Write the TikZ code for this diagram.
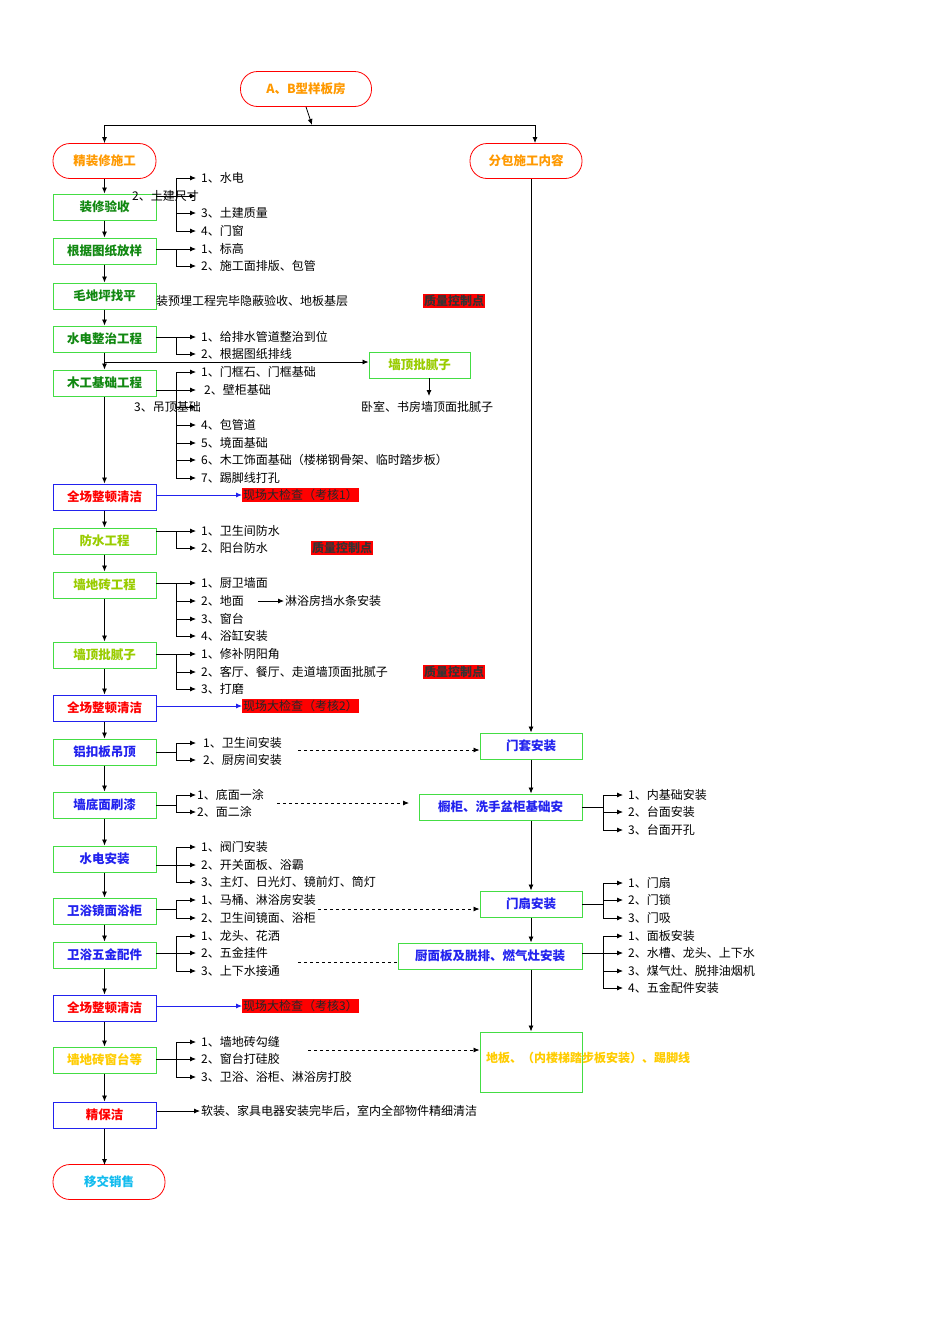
\documentclass[tikz,border=0pt]{standalone}
\usepackage{fontspec}
\setmainfont{Liberation Serif}
\newfontfamily\cjk{Noto Sans CJK SC}
\usetikzlibrary{arrows.meta}
\definecolor{bgreen}{HTML}{44DD44}
\definecolor{dgreen}{HTML}{118811}
\definecolor{ygreen}{HTML}{99CC00}
\definecolor{orng}{HTML}{FF9900}
\definecolor{gold}{HTML}{FFCC00}
\definecolor{cyn}{HTML}{11BBEE}
\definecolor{blu}{HTML}{2222EE}
\tikzset{
  every node/.style={font=\cjk\fontsize{12}{14}\selectfont, inner sep=1pt},
  gbox/.style={draw=bgreen, line width=1pt, minimum width=103pt, minimum height=26pt, font=\cjk\bfseries\fontsize{12.5}{14}\selectfont},
  bbox/.style={draw=blu, line width=1pt, minimum width=103pt, minimum height=26pt, text=red, font=\cjk\bfseries\fontsize{12.5}{14}\selectfont},
  rbox/.style={draw=red, rounded corners=17pt, line width=0.8pt, minimum height=35pt, text=orng, font=\cjk\bfseries\fontsize{12.5}{14}\selectfont},
  arr/.style={-{Latex[length=6pt,width=5pt]}, line width=0.8pt},
  ln/.style={line width=0.8pt},
  dsh/.style={dashed, line width=0.8pt},
  item/.style={anchor=west},
  qc/.style={fill=red, text=black!80, font=\cjk\bfseries\itshape\fontsize{12}{14}\selectfont, inner sep=1pt},
  chk/.style={fill=red, text=black!85, inner sep=1pt, anchor=west},
}
\begin{document}
\begin{tikzpicture}[x=1pt,y=-1pt]
\useasboundingbox (0,0) rectangle (950,1344);
% top
\node[rbox, minimum width=131pt] (top) at (306,89) {A、B型样板房};
\node[rbox, minimum width=103pt] (jz) at (104.5,161) {精装修施工};
\node[rbox, minimum width=112pt] (fb) at (526,161) {分包施工内容};
\coordinate (tj) at (312,125);
\draw[arr] (top.south) -- (tj);
\draw[ln] (104.5,125) -- (535,125);
\draw[arr] (104.5,125) -- (jz.north);
\draw[arr] (535,125) -- (535,143);
% left boxes
\node[gbox, text=dgreen] (b1) at (104.5,207) {装修验收};
\node[gbox, text=dgreen] (b2) at (104.5,251) {根据图纸放样};
\node[gbox, text=dgreen] (b3) at (104.5,296) {毛地坪找平};
\node[gbox, text=dgreen] (b4) at (104.5,339) {水电整治工程};
\node[gbox, text=dgreen] (b5) at (104.5,383) {木工基础工程};
\node[bbox] (b6) at (104.5,497) {全场整顿清洁};
\node[gbox, text=ygreen] (b7) at (104.5,541) {防水工程};
\node[gbox, text=ygreen] (b8) at (104.5,585) {墙地砖工程};
\node[gbox, text=ygreen] (b9) at (104.5,655) {墙顶批腻子};
\node[bbox] (b10) at (104.5,708) {全场整顿清洁};
\node[gbox, text=blu] (b11) at (104.5,752) {铝扣板吊顶};
\node[gbox, text=blu] (b12) at (104.5,805) {墙底面刷漆};
\node[gbox, text=blu] (b13) at (104.5,859) {水电安装};
\node[gbox, text=blu] (b14) at (104.5,911) {卫浴镜面浴柜};
\node[gbox, text=blu] (b15) at (104.5,955) {卫浴五金配件};
\node[bbox] (b16) at (104.5,1008) {全场整顿清洁};
\node[gbox, text=gold] (b17) at (104.5,1060) {墙地砖窗台等};
\node[bbox] (b18) at (104.5,1115) {精保洁};
\node[rbox, minimum width=112pt, text=cyn] (b19) at (109,1182) {移交销售};
\draw[arr] (jz.south) -- (b1.north);
\foreach \a/\b in {b1/b2,b2/b3,b3/b4,b4/b5,b5/b6,b6/b7,b7/b8,b8/b9,b9/b10,b10/b11,b11/b12,b12/b13,b13/b14,b14/b15,b15/b16,b16/b17,b17/b18}
  \draw[arr] (\a.south) -- (\b.north);
\draw[arr] (b18.south) -- (104.5,1165);
% right boxes
\node[gbox, text=ygreen, minimum width=101pt] (wd) at (419.5,365) {墙顶批腻子};
\node[gbox, text=blu, minimum width=102pt] (r1) at (531,746) {门套安装};
\node[gbox, text=blu, minimum width=163pt, align=left] (r2) at (500.5,807) {橱柜、洗手盆柜基础安};
\node[gbox, text=blu, minimum width=102pt] (r3) at (531,904) {门扇安装};
\node[gbox, text=blu, minimum width=184pt] (r4) at (490,956) {厨面板及脱排、燃气灶安装};
\node[gbox, text=gold, minimum width=102pt, minimum height=60pt, text width=90pt, align=justify, font=\cjk\bfseries\fontsize{12}{13.5}\selectfont] (r5) at (531,1062) {地板、（内楼梯踏步板安装）、踢脚线\par\vspace{8pt}};
\draw[arr] (531,179) -- (r1.north);
\draw[arr] (r1.south) -- (r2.north -| r1);
\draw[arr] (r2.south -| r1) -- (r3.north);
\draw[arr] (r3.south) -- (r4.north -| r3);
\draw[arr] (r4.south -| r3) -- (r5.north);
% wall putty branch
\draw[arr] (104.5,362) -- (wd.west |- 0,362);
\coordinate (wdt) at (429,396);
\draw[arr] (429,378) -- (wdt);
\node (wdtext) at (427,407) {卧室、书房墙顶面批腻子};
% generic list drawer: box y, joint y, list
\newcommand\lst[4]{% #1 box x-right, #2 join y, #3 ymin, #4 ymax
  \draw[ln] (#1,#2) -- (176,#2); \draw[ln] (176,#3) -- (176,#4);}
% G1
\lst{156}{196}{178}{231}
\foreach \y/\t in {178/1、水电,213/3、土建质量,231/4、门窗} {\draw[arr] (176,\y) -- (196,\y); \node[item] at (200,\y) {\t};}
\draw[arr] (176,196) -- (196,196);
\node[item] at (131,196) {2、土建尺寸};
% G2
\lst{156}{249}{249}{266}
\foreach \y/\t in {249/1、标高,266/2、施工面排版、包管} {\draw[arr] (176,\y) -- (196,\y); \node[item] at (200,\y) {\t};}
% G3
\node[item] at (155,301) {装预埋工程完毕隐蔽验收、地板基层};
\node[qc] (qc1) at (454,301) {质量控制点};
% G4
\lst{156}{337}{337}{354}
\foreach \y/\t in {337/1、给排水管道整治到位,354/2、根据图纸排线} {\draw[arr] (176,\y) -- (196,\y); \node[item] at (200,\y) {\t};}
% G5
\lst{156}{390}{372}{478}
\foreach \y/\t in {372/1、门框石、门框基础,425/4、包管道,443/5、境面基础,460/6、木工饰面基础（楼梯钢骨架、临时踏步板）,478/7、踢脚线打孔} {\draw[arr] (176,\y) -- (196,\y); \node[item] at (200,\y) {\t};}
\draw[arr] (176,390) -- (196,390); \node[item] at (203,390) {2、壁柜基础};
\draw[arr] (176,407) -- (196,407); \node[item] at (133,407) {3、吊顶基础};
% check 1
\node[chk] (c1) at (242,495) {现场大检查（考核1）};
\draw[arr, blu] (b6.east |- 0,495) -- (c1.west);
% G6
\lst{156}{531}{531}{548}
\foreach \y/\t in {531/1、卫生间防水,548/2、阳台防水} {\draw[arr] (176,\y) -- (196,\y); \node[item] at (200,\y) {\t};}
\node[qc] (qc2) at (342,548) {质量控制点};
% G7
\lst{156}{583}{583}{636}
\foreach \y/\t in {583/1、厨卫墙面,601/2、地面,619/3、窗台,636/4、浴缸安装} {\draw[arr] (176,\y) -- (196,\y); \node[item] at (200,\y) {\t};}
\node[item] (lyf) at (284,601) {淋浴房挡水条安装};
\draw[arr] (258,601) -- (lyf.west);
% G8
\lst{156}{654}{654}{689}
\foreach \y/\t in {654/1、修补阴阳角,672/2、客厅、餐厅、走道墙顶面批腻子,689/3、打磨} {\draw[arr] (176,\y) -- (196,\y); \node[item] at (200,\y) {\t};}
\node[qc] (qc3) at (454,672) {质量控制点};
% check 2
\node[chk] (c2) at (242,706) {现场大检查（考核2）};
\draw[arr, blu] (b10.east |- 0,706) -- (c2.west);
% G9
\lst{156}{752}{743}{760}
\foreach \y/\t in {743/1、卫生间安装,760/2、厨房间安装} {\draw[arr] (176,\y) -- (196,\y); \node[item] at (202,\y) {\t};}
\draw[dsh, arr] (298,750) -- (r1.west |- 0,750);
% G10
\lst{156}{805}{795}{812}
\foreach \y/\t in {795/1、底面一涂,812/2、面二涂} {\draw[arr] (176,\y) -- (196,\y); \node[item] at (196,\y) {\t};}
\draw[dsh, arr] (277,803) -- (409,803);
% G11
\lst{156}{865}{847}{882}
\foreach \y/\t in {847/1、阀门安装,865/2、开关面板、浴霸,882/3、主灯、日光灯、镜前灯、筒灯} {\draw[arr] (176,\y) -- (196,\y); \node[item] at (200,\y) {\t};}
% G12
\lst{156}{909}{900}{918}
\foreach \y/\t in {900/1、马桶、淋浴房安装,918/2、卫生间镜面、浴柜} {\draw[arr] (176,\y) -- (196,\y); \node[item] at (200,\y) {\t};}
\draw[dsh, arr] (318,909) -- (r3.west |- 0,909);
% G13
\lst{156}{953}{936}{971}
\foreach \y/\t in {936/1、龙头、花洒,953/2、五金挂件,971/3、上下水接通} {\draw[arr] (176,\y) -- (196,\y); \node[item] at (200,\y) {\t};}
\draw[dsh] (298,962) -- (r4.west |- 0,962);
% check 3
\node[chk] (c3) at (242,1006) {现场大检查（考核3）};
\draw[arr, blu] (b16.east |- 0,1006) -- (c3.west);
% G14
\lst{156}{1059}{1042}{1077}
\foreach \y/\t in {1042/1、墙地砖勾缝,1059/2、窗台打硅胶,1077/3、卫浴、浴柜、淋浴房打胶} {\draw[arr] (176,\y) -- (196,\y); \node[item] at (200,\y) {\t};}
\draw[dsh, arr] (308,1050) -- (r5.west |- 0,1050);
% final
\node[item] (fin) at (200,1111) {软装、家具电器安装完毕后，室内全部物件精细清洁};
\draw[arr] (b18.east |- 0,1111) -- (fin.west);
% right lists
\newcommand\rlst[3]{\draw[ln] (582,#1) -- (603,#1); \draw[ln] (603,#2) -- (603,#3);}
\rlst{807}{795}{830}
\foreach \y/\t in {795/1、内基础安装,812/2、台面安装,830/3、台面开孔} {\draw[arr] (603,\y) -- (623,\y); \node[item] at (627,\y) {\t};}
\rlst{904}{883}{918}
\foreach \y/\t in {883/1、门扇,900/2、门锁,918/3、门吸} {\draw[arr] (603,\y) -- (623,\y); \node[item] at (627,\y) {\t};}
\rlst{953}{936}{988}
\foreach \y/\t in {936/1、面板安装,953/2、水槽、龙头、上下水,971/3、煤气灶、脱排油烟机,988/4、五金配件安装} {\draw[arr] (603,\y) -- (623,\y); \node[item] at (627,\y) {\t};}
\end{tikzpicture}
\end{document}
